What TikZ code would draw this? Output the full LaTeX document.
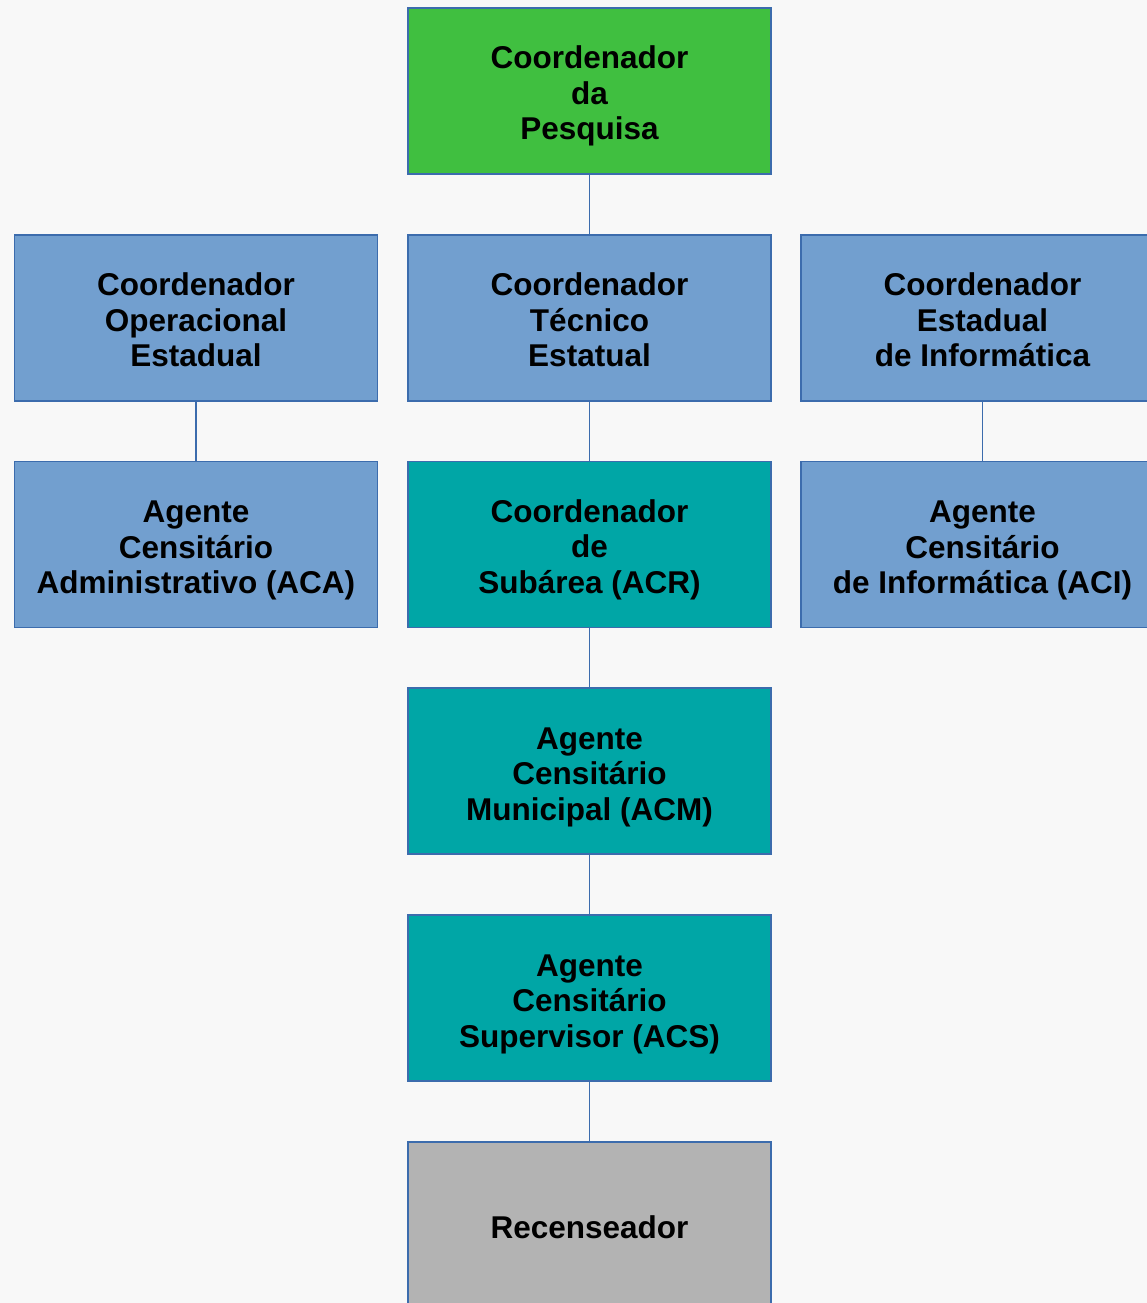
\documentclass[tikz,border=0pt]{standalone}
\usepackage{fontspec}
\setmainfont{Liberation Sans}
\definecolor{bg}{HTML}{F8F8F8}
\definecolor{edge}{HTML}{3C6CAD}
\definecolor{greenbox}{HTML}{40BF40}
\definecolor{bluebox}{HTML}{729FCF}
\definecolor{tealbox}{HTML}{00A6A6}
\definecolor{graybox}{HTML}{B3B3B3}
\tikzset{
  orgbox/.style={draw=edge, line width=1.8pt, minimum width=363pt, minimum height=166pt,
    inner sep=0pt},
  orgtext/.style={inner sep=0pt, align=center, text=black, yshift=-5pt,
    font=\fontsize{31.5}{35.5}\selectfont\bfseries},
  link/.style={draw=edge, line width=1.8pt}
}
\begin{document}
\begin{tikzpicture}[x=1pt,y=-1pt]
\useasboundingbox (0,0) rectangle (1147,1303);
\fill[bg] (0,0) rectangle (1147,1303);
\clip (0,0) rectangle (1147,1303);
\node[orgbox, fill=greenbox] (cp) at (589.5,91) {};
\node[orgbox, fill=bluebox] (coe) at (196,318) {};
\node[orgbox, fill=bluebox] (cte) at (589.5,318) {};
\node[orgbox, fill=bluebox] (cei) at (982.5,318) {};
\node[orgbox, fill=bluebox] (aca) at (196,544.5) {};
\node[orgbox, fill=tealbox] (acr) at (589.5,544.5) {};
\node[orgbox, fill=bluebox] (aci) at (982.5,544.5) {};
\node[orgbox, fill=tealbox] (acm) at (589.5,771) {};
\node[orgbox, fill=tealbox] (acs) at (589.5,998) {};
\node[orgbox, fill=graybox] (rec) at (589.5,1225) {};
\node[orgtext] (cp-t) at (cp) {Coordenador\\da\\Pesquisa};
\node[orgtext] (coe-t) at ([yshift=3pt]coe) {Coordenador\\Operacional\\Estadual};
\node[orgtext] (cte-t) at ([yshift=3pt]cte) {Coordenador\\Técnico\\Estatual};
\node[orgtext] (cei-t) at ([yshift=3pt]cei) {Coordenador\\Estadual\\de Informática};
\node[orgtext] (aca-t) at ([yshift=-1pt]aca) {Agente\\Censitário\\Administrativo (ACA)};
\node[orgtext] (acr-t) at (acr) {Coordenador\\de\\Subárea (ACR)};
\node[orgtext] (aci-t) at ([yshift=-1pt]aci) {Agente\\Censitário\\de Informática (ACI)};
\node[orgtext] (acm-t) at ([yshift=-1pt]acm) {Agente\\Censitário\\Municipal (ACM)};
\node[orgtext] (acs-t) at ([yshift=-1pt]acs) {Agente\\Censitário\\Supervisor (ACS)};
\node[orgtext] (rec-t) at ([yshift=3pt]rec) {Recenseador};
\draw[link] (cp) -- (cte);
\draw[link] (coe) -- (aca);
\draw[link] (cte) -- (acr);
\draw[link] (cei) -- (aci);
\draw[link] (acr) -- (acm);
\draw[link] (acm) -- (acs);
\draw[link] (acs) -- (rec);
\end{tikzpicture}
\end{document}
